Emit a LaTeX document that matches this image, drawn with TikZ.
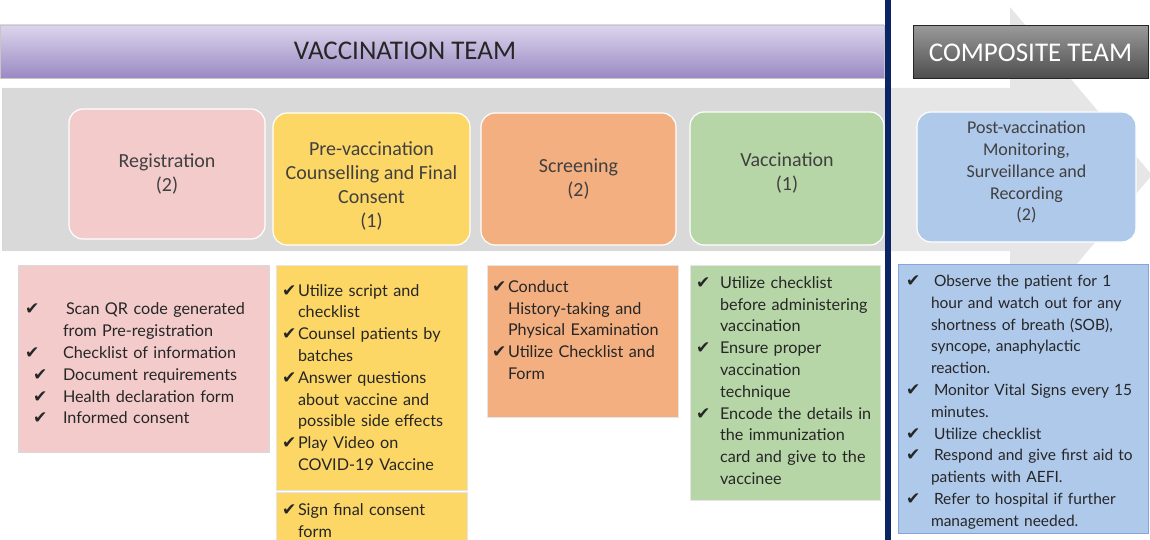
\documentclass[tikz,border=0pt]{standalone}
\usepackage{fontspec}
\setmainfont{Lato}
\newfontfamily\topfont{Carlito}
\newfontfamily\symfont{DejaVu Sans}

\definecolor{bandgrey}{HTML}{D9D9D9}
\definecolor{headgrey}{HTML}{E6E6E6}
\definecolor{navyline}{HTML}{0B2463}
\definecolor{pinkbox}{HTML}{F3CBCB}
\definecolor{yellowbox}{HTML}{FDD766}
\definecolor{orangebox}{HTML}{F3AF80}
\definecolor{greenbox}{HTML}{B7D6A7}
\definecolor{bluebox}{HTML}{AFC9EB}
\definecolor{blueedge}{HTML}{86A6DA}
\definecolor{darktext}{HTML}{404040}
\definecolor{lavtop}{HTML}{DCD5EC}
\definecolor{lavbottom}{HTML}{9A89C3}

\newlength{\tickw}
\newcommand{\tick}[1][0pt]{\par\noindent\hangindent=\tickw\hangafter=1%
  \hspace*{#1}\makebox[\dimexpr\tickw-#1\relax][l]{\symfont\fontsize{17}{17}\selectfont ✔}}

\tikzset{
  stagebox/.style={draw=white, line width=1.2pt, rounded corners=14pt, align=center,
    inner sep=0pt, text=darktext, font=\topfont\fontsize{20}{24}\selectfont},
  listbox/.style={rectangle, line width=0.8pt, align=left, inner ysep=0pt,
    text=black!85, font=\fontsize{16.2}{21.8}\selectfont}
}

\begin{document}
\begin{tikzpicture}[x=1pt, y=-1pt]
        \useasboundingbox (0,0) rectangle (1150,540);
        % the grey arrow behind the stages
        \fill[headgrey] (2,88) -- (1010,88) -- (1010,7) -- (1152,175) -- (1010,343)
            -- (1010,251) -- (2,251) -- cycle;
        \fill[bandgrey] (2,88) rectangle (888,251);

        % team headers
        \draw[gray!45, top color=lavtop, bottom color=lavbottom] (0,25) rectangle (884,78);
        \node[font=\topfont\fontsize{27}{30}\selectfont, text=black!85] (vteam) at (405,51) {VACCINATION TEAM};
        \node[draw=black!85, line width=1pt, top color=black!40, bottom color=black!70,
            minimum width=235pt, minimum height=53pt, inner sep=0pt,
            font=\topfont\fontsize{27}{30}\selectfont, text=white] (cteam) at (1030.5,52.5) {COMPOSITE TEAM};

        % stages
        \node[stagebox, fill=pinkbox, minimum width=196pt, minimum height=130pt] (reg) at (167,174)
            {Registration\\(2)};
        \node[stagebox, fill=yellowbox, minimum width=197pt, minimum height=132pt] (pre) at (371.5,179)
            {\rule{0pt}{27pt}Pre-vaccination\\Counselling and Final\\Consent\\(1)};
        \node[stagebox, fill=orangebox, minimum width=195pt, minimum height=132pt] (scr) at (578.5,179)
            {Screening\\(2)};
        \node[stagebox, fill=greenbox, minimum width=194pt, minimum height=133pt] (vac) at (787,178.5)
            {Vaccination\\(1)\rule[-13pt]{0pt}{13pt}};
        \node[stagebox, fill=bluebox, minimum width=219pt, minimum height=130pt,
            font=\topfont\fontsize{18}{21.8}\selectfont] (post) at (1026.5,177)
            {Post-vaccination\\Monitoring,\\Surveillance and\\Recording\\(2)\rule[-12pt]{0pt}{12pt}};

        % task lists
        \node[listbox, fill=pinkbox, draw=black!15, inner xsep=7pt, text width=237pt,
            minimum height=187pt] (regList) at (143.5,358.5)
            {\setlength{\tickw}{38pt}%
             \tick\hspace*{3pt}Scan QR code generated\newline from Pre-registration
             \tick Checklist of information
             \tick[8pt]Document requirements
             \tick[8pt]Health declaration form
             \tick[8pt]Informed consent\par};
        \node[listbox, fill=yellowbox, draw=black!10, inner xsep=6pt, text width=179pt,
            minimum height=225pt] (preList) at (371.5,377.5)
            {\setlength{\tickw}{16pt}%
             \tick Utilize script and\newline checklist
             \tick Counsel patients by\newline batches
             \tick Answer questions\newline about vaccine and\newline possible side effects
             \tick Play Video on\newline COVID-19 Vaccine\par\vspace*{10pt}};
        \node[listbox, fill=yellowbox, draw=black!10, inner xsep=6pt, text width=179pt,
            minimum height=48pt] (preSign) at (371.5,516)
            {\setlength{\tickw}{16pt}%
             \tick Sign final consent\newline form\par};
        \node[listbox, fill=orangebox, draw=black!10, inner xsep=5pt, text width=181pt,
            minimum height=152pt] (scrList) at (582.5,341)
            {\setlength{\tickw}{16pt}%
             \tick Conduct\newline History-taking and\newline Physical Examination
             \tick Utilize Checklist and\newline Form\par\vspace*{32pt}};
        \node[listbox, fill=greenbox, draw=black!10, inner xsep=6pt, text width=178pt,
            minimum height=235pt] (vacList) at (785,382.5)
            {\setlength{\tickw}{24pt}%
             \tick Utilize checklist\newline before administering\newline vaccination
             \tick Ensure proper\newline vaccination\newline technique
             \tick Encode the details in\newline the immunization\newline card and give to the\newline vaccinee\par\vspace*{14pt}};
        \node[listbox, fill=bluebox, draw=blueedge, inner xsep=8pt, text width=234pt,
            minimum height=268pt, font=\fontsize{15.5}{21.8}\selectfont] (postList) at (1023,399)
            {\setlength{\tickw}{25pt}%
             \tick\hspace*{3pt}Observe the patient for 1\newline hour and watch out for any\newline shortness of breath (SOB),\newline syncope, anaphylactic\newline reaction.
             \tick\hspace*{3pt}Monitor Vital Signs every 15\newline minutes.
             \tick\hspace*{3pt}Utilize checklist
             \tick\hspace*{3pt}Respond and give first aid to\newline patients with AEFI.
             \tick\hspace*{3pt}Refer to hospital if further\newline management needed.\par\vspace*{4pt}};

        % divider between the teams
        \draw[navyline, line width=6pt] (888,0) -- (888,540);

    \end{tikzpicture}
\end{document}
